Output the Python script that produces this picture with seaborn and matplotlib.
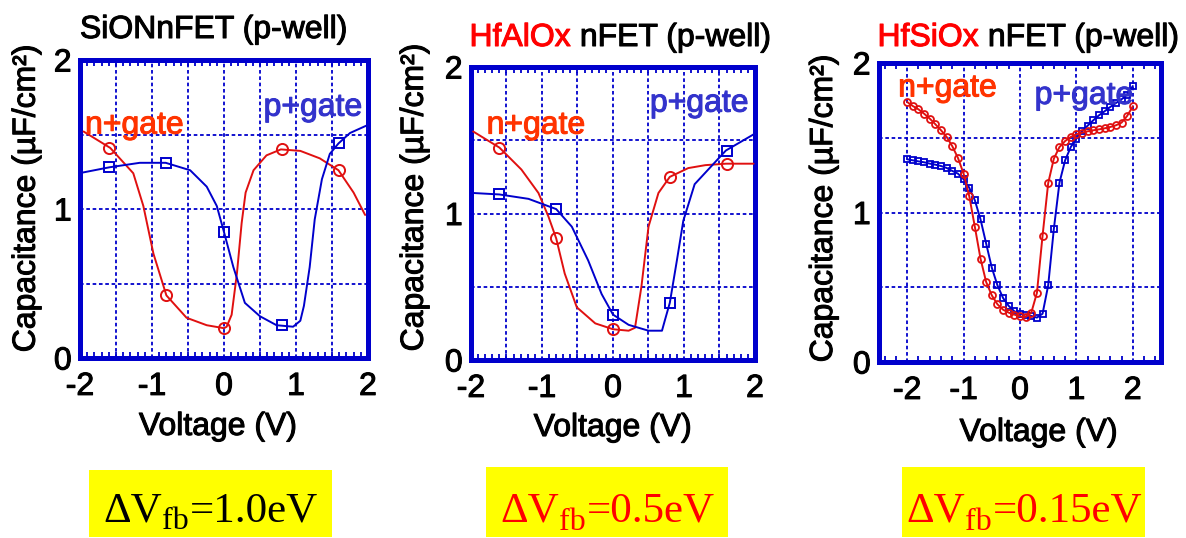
import numpy as np
import pandas as pd
import matplotlib
matplotlib.use("Agg")
import matplotlib.pyplot as plt
import matplotlib.patheffects as pe
from matplotlib.text import Text
from matplotlib.patches import Rectangle
from matplotlib.ticker import MultipleLocator
import seaborn as sns

sns.set_theme(style="white")
plt.rcParams['font.family'] = ['Liberation Sans', 'DejaVu Sans']

# ---------------- data ----------------
# Panel 1: SiON nFET
sion_n_v = [-1.95, -1.58, -1.26, -1.12, -0.98, -0.80, -0.52, -0.24, 0.00, 0.037, 0.106, 0.18, 0.245, 0.30, 0.41, 0.59, 0.79, 1.06, 1.33, 1.59, 1.80, 1.96]
sion_n_c = [1.52, 1.41, 1.24, 1.02, 0.70, 0.42, 0.27, 0.22, 0.20, 0.21, 0.29, 0.57, 0.905, 1.11, 1.26, 1.36, 1.40, 1.39, 1.34, 1.26, 1.11, 0.96]
sion_p_v = [-1.96, -1.59, -1.17, -0.81, -0.47, -0.24, -0.10, 0.00, 0.13, 0.29, 0.50, 0.73, 0.96, 1.06, 1.11, 1.19, 1.26, 1.36, 1.47, 1.59, 1.75, 1.98]
sion_p_c = [1.245, 1.28, 1.31, 1.31, 1.26, 1.15, 1.02, 0.845, 0.61, 0.37, 0.28, 0.22, 0.21, 0.25, 0.35, 0.61, 0.93, 1.20, 1.37, 1.44, 1.51, 1.56]
sion_mk_v = [-1.6, -0.8, 0.0, 0.8, 1.6]
sion_n_mk = [1.41, 0.42, 0.20, 1.40, 1.26]
sion_p_mk = [1.28, 1.31, 0.845, 0.22, 1.44]

# Panel 2: HfAlOx nFET
hfal_n_v = [-1.97, -1.60, -1.29, -1.05, -0.91, -0.80, -0.68, -0.51, -0.25, 0.00, 0.22, 0.31, 0.40, 0.50, 0.64, 0.80, 1.06, 1.30, 1.59, 1.98]
hfal_n_c = [1.56, 1.45, 1.30, 1.14, 0.98, 0.83, 0.59, 0.36, 0.25, 0.21, 0.20, 0.22, 0.50, 0.91, 1.14, 1.25, 1.31, 1.33, 1.34, 1.34]
hfal_p_v = [-1.97, -1.60, -1.19, -0.80, -0.58, -0.35, -0.16, 0.00, 0.22, 0.50, 0.69, 0.73, 0.80, 0.90, 0.99, 1.15, 1.59, 1.98]
hfal_p_c = [1.14, 1.13, 1.10, 1.03, 0.91, 0.68, 0.45, 0.31, 0.24, 0.20, 0.20, 0.27, 0.39, 0.68, 0.95, 1.20, 1.43, 1.54]
hfal_mk_v = [-1.6, -0.8, 0.0, 0.8, 1.6]
hfal_n_mk = [1.45, 0.83, 0.21, 1.25, 1.34]
hfal_p_mk = [1.13, 1.03, 0.31, 0.39, 1.43]

# Panel 3: HfSiOx nFET (measured, 0.1 V steps)
hfsi_v = [-2.0, -1.9, -1.8, -1.7, -1.6, -1.5, -1.4, -1.3, -1.2, -1.1, -1.0,
          -0.9, -0.8, -0.7, -0.6, -0.5, -0.4, -0.3, -0.2, -0.1, 0.0,
          0.1, 0.2, 0.3, 0.4, 0.5, 0.6, 0.7, 0.8, 0.9, 1.0,
          1.1, 1.2, 1.3, 1.4, 1.5, 1.6, 1.7, 1.8, 1.9, 2.0]
hfsi_n_c = [1.739, 1.712, 1.690, 1.661, 1.628, 1.590, 1.550, 1.505, 1.443, 1.365, 1.260,
            1.110, 0.903, 0.691, 0.535, 0.446, 0.386, 0.350, 0.330, 0.317, 0.305,
            0.301, 0.330, 0.462, 0.845, 1.197, 1.360, 1.438, 1.478, 1.505, 1.523,
            1.534, 1.543, 1.550, 1.556, 1.563, 1.572, 1.583, 1.601, 1.646, 1.710]
hfsi_p_c = [1.356, 1.349, 1.342, 1.336, 1.327, 1.320, 1.311, 1.298, 1.278, 1.260, 1.222,
            1.166, 1.081, 0.954, 0.792, 0.631, 0.513, 0.428, 0.375, 0.339, 0.323,
            0.317, 0.308, 0.297, 0.323, 0.513, 0.890, 1.200, 1.349, 1.438, 1.494,
            1.543, 1.581, 1.617, 1.650, 1.677, 1.706, 1.732, 1.757, 1.788, 1.846]

titles = [("", "SiONnFET (p-well)"), ("HfAlOx", " nFET (p-well)"), ("HfSiOx", " nFET (p-well)")]
dvfb = ["=1.0eV", "=0.5eV", "=0.15eV"]
dvfb_colors = ["black", "#ff0000", "#ff0000"]

# ---------------- style ----------------
RED = "#e01010"
BLUE = "#0000cc"
NTXT = "#ff3300"
PTXT = "#3333cc"
FS = 23

W, H = 1186, 538
fig = plt.figure(figsize=(W / 100, H / 100), dpi=100)

# overlay in pixel coordinates for the yellow boxes
ax0 = fig.add_axes([0, 0, 1, 1], zorder=-1)
ax0.set_xlim(0, W)
ax0.set_ylim(H, 0)
ax0.axis('off')


def px_axes(l, r, t, b):
    return fig.add_axes([l / W, 1 - b / H, (r - l) / W, (b - t) / H])


axes = [px_axes(80, 368, 60, 358), px_axes(471, 755, 67, 360), px_axes(879, 1161, 63, 362)]


def style_axes(ax, xlim, xgrid, minor_step):
    ax.set_xlim(*xlim)
    ax.set_ylim(0, 2)
    ax.set_xticks([-2, -1, 0, 1, 2])
    ax.set_xticklabels(["-2", "-1", "0", "1", "2"])
    ax.set_yticks([0, 1, 2])
    ax.set_yticklabels(["0", "1", "2"])
    ax.xaxis.set_minor_locator(MultipleLocator(minor_step))
    for sp in ax.spines.values():
        sp.set_color(BLUE)
        sp.set_linewidth(3.6)
        sp.set_visible(True)
    ax.tick_params(axis='both', which='major', labelsize=FS, length=0, pad=10, colors='black')
    ax.tick_params(axis='y', which='major', pad=6)
    ax.tick_params(axis='x', which='minor', direction='in', top=True, bottom=True,
                   length=4, width=1.3, color=BLUE)
    for x in xgrid:
        ax.axvline(x, color=BLUE, lw=1.3, ls=(0, (2, 1.5)), zorder=1)
    for y in [0.5, 1.0, 1.5]:
        ax.axhline(y, color=BLUE, lw=1.3, ls=(0, (2, 1.5)), zorder=1)
    ax.set_facecolor("white")


style_axes(axes[0], (-2, 2), [-1.5, -1, -0.5, 0, 0.5, 1, 1.5], 0.1)
style_axes(axes[1], (-2, 2), [-1.5, -1, -0.5, 0, 0.5, 1, 1.5], 0.1)
style_axes(axes[2], (-2.5, 2.5), [-2, -1, 0, 1, 2], 0.2)

# ---- panel 1 & 2 curves ----
panel_data = [
    (sion_n_v, sion_n_c, sion_p_v, sion_p_c, sion_mk_v, sion_n_mk, sion_p_mk),
    (hfal_n_v, hfal_n_c, hfal_p_v, hfal_p_c, hfal_mk_v, hfal_n_mk, hfal_p_mk),
]
for ax, (nv, nc, pv, pc, mv, nmk, pmk) in zip(axes[:2], panel_data):
    sns.lineplot(x=nv, y=nc, ax=ax, color=RED, lw=1.4, estimator=None, sort=False, zorder=3)
    sns.lineplot(x=pv, y=pc, ax=ax, color=BLUE, lw=1.4, estimator=None, sort=False, zorder=3)
    ax.plot(mv, nmk, ls='none', marker='o', ms=8, mfc='none', mec=RED, mew=1.4, zorder=4)
    ax.plot(mv, pmk, ls='none', marker='s', ms=7.5, mfc='none', mec=BLUE, mew=1.4, zorder=4)

# ---- panel 3 measured data ----
df3 = pd.DataFrame({"V": hfsi_v * 2,
                    "C": hfsi_n_c + hfsi_p_c,
                    "gate": ["n+gate"] * len(hfsi_v) + ["p+gate"] * len(hfsi_v)})
sns.lineplot(data=df3[df3.gate == "n+gate"], x="V", y="C", ax=axes[2], color=RED, lw=1.4,
             marker='o', ms=5, mfc='none', mec=RED, mew=1.3, estimator=None, sort=False, zorder=4)
sns.lineplot(data=df3[df3.gate == "p+gate"], x="V", y="C", ax=axes[2], color=BLUE, lw=1.4,
             marker='s', ms=5, mfc='none', mec=BLUE, mew=1.3, estimator=None, sort=False, zorder=3)

# ---- in-plot labels ----
label_pos = [((-1.93, 1.56), (0.55, 1.68)), ((-1.78, 1.60), (0.52, 1.75)), ((-2.16, 1.83), (0.26, 1.78))]
for ax, (npos, ppos) in zip(axes, label_pos):
    ax.text(*npos, "n+gate", color=NTXT, fontsize=FS, ha='left', va='center', zorder=5)
    ax.text(*ppos, "p+gate", color=PTXT, fontsize=FS, ha='left', va='center', zorder=5)

# ---- axis labels ----
ylab_x = [-0.185, -0.198, -0.195]
ylab_y = [0.537, 0.556, 0.515]
xlab_x = [0.48, 0.50, 0.567]
xlab_y = [-0.181, -0.181, -0.187]
for i, ax in enumerate(axes):
    ax.set_xlabel("Voltage (V)", fontsize=FS, color='black')
    ax.set_ylabel("Capacitance (µF/cm²)", fontsize=FS, color='black')
    ax.yaxis.label.set_va('center')
    ax.yaxis.set_label_coords(ylab_x[i], ylab_y[i])
    ax.xaxis.set_label_coords(xlab_x[i], xlab_y[i])

# ---- titles ----
fig.text(214 / W, 1 - 30 / H, titles[0][1], fontsize=FS, ha='center', va='center', color='black')
for (red_part, black_part), xsplit in zip(titles[1:], [571, 979]):
    fig.text(xsplit / W, 1 - 38 / H, red_part, fontsize=FS, ha='right', va='center', color='#ff0000')
    fig.text(xsplit / W, 1 - 38 / H, black_part, fontsize=FS, ha='left', va='center', color='black')

# thicken the sans-serif text slightly, like the heavy rendering in the original
for t in fig.findobj(Text):
    if t.get_text():
        t.set_path_effects([pe.withStroke(linewidth=0.75, foreground=t.get_color())])

# ---- yellow boxes with ΔV_fb ----
SERIF = ['Liberation Serif', 'DejaVu Serif']
boxes = [(89, 332, 470, 537, 103, 521), (486, 728, 467, 537, 500, 522), (902, 1145, 467, 537, 906, 522)]
for (l, r, t, b, tx, base), val, col in zip(boxes, dvfb, dvfb_colors):
    ax0.add_patch(Rectangle((l, t), r - l, b - t, facecolor='#ffff00', edgecolor='none', zorder=0))
    t1 = ax0.text(tx, base + 9, "ΔV", fontsize=31, ha='left', va='bottom', color=col, family=SERIF)
    t2 = ax0.annotate("fb", xy=(1, 0), xycoords=t1, xytext=(0.5, -4.3), textcoords='offset points',
                      fontsize=23, ha='left', va='bottom', color=col, family=SERIF)
    ax0.annotate(val, xy=(1, 0), xycoords=t2, xytext=(0.5, 4.3), textcoords='offset points',
                 fontsize=31, ha='left', va='bottom', color=col, family=SERIF)

fig.savefig("out.png", dpi=100)
